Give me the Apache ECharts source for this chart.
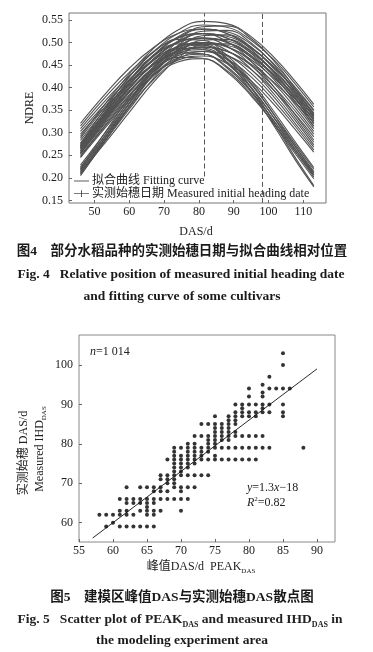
<!DOCTYPE html>
<html><head><meta charset="utf-8">
<script src="https://cdn.jsdelivr.net/npm/echarts@6/dist/echarts.min.js"></script>
<style>html,body{margin:0;padding:0;background:#fff}#c{width:373px;height:652px}</style>
</head><body><div id="c"></div>
<script>
// ---------- Fig. 4 data ----------
const dasGrid = [46, 53, 60, 67, 74, 81, 88, 95, 102, 108, 113];
const ndreCurves = [
  [0.208, 0.282, 0.356, 0.418, 0.457, 0.464, 0.438, 0.385, 0.314, 0.250, 0.198],
  [0.212, 0.288, 0.364, 0.427, 0.466, 0.474, 0.447, 0.393, 0.321, 0.255, 0.202],
  [0.217, 0.294, 0.371, 0.436, 0.476, 0.484, 0.457, 0.401, 0.328, 0.260, 0.206],
  [0.221, 0.300, 0.379, 0.445, 0.486, 0.494, 0.466, 0.410, 0.335, 0.266, 0.211],
  [0.247, 0.314, 0.376, 0.428, 0.461, 0.470, 0.454, 0.415, 0.359, 0.304, 0.257],
  [0.253, 0.320, 0.384, 0.437, 0.471, 0.480, 0.463, 0.424, 0.367, 0.311, 0.262],
  [0.258, 0.327, 0.392, 0.446, 0.480, 0.490, 0.473, 0.432, 0.375, 0.317, 0.268],
  [0.263, 0.334, 0.400, 0.455, 0.490, 0.500, 0.483, 0.441, 0.382, 0.324, 0.273],
  [0.268, 0.340, 0.408, 0.464, 0.500, 0.510, 0.492, 0.450, 0.390, 0.330, 0.279],
  [0.274, 0.347, 0.416, 0.473, 0.510, 0.520, 0.502, 0.459, 0.397, 0.336, 0.284],
  [0.245, 0.310, 0.373, 0.427, 0.464, 0.480, 0.471, 0.440, 0.390, 0.338, 0.291],
  [0.250, 0.316, 0.381, 0.436, 0.474, 0.490, 0.481, 0.449, 0.398, 0.345, 0.297],
  [0.255, 0.323, 0.389, 0.445, 0.484, 0.500, 0.491, 0.458, 0.406, 0.352, 0.303],
  [0.260, 0.329, 0.397, 0.454, 0.493, 0.510, 0.501, 0.467, 0.414, 0.359, 0.309],
  [0.265, 0.336, 0.404, 0.463, 0.503, 0.520, 0.510, 0.476, 0.422, 0.366, 0.315],
  [0.270, 0.342, 0.412, 0.471, 0.513, 0.530, 0.520, 0.485, 0.430, 0.373, 0.321],
  [0.267, 0.331, 0.392, 0.445, 0.482, 0.499, 0.494, 0.468, 0.424, 0.375, 0.331],
  [0.272, 0.337, 0.400, 0.453, 0.491, 0.509, 0.504, 0.477, 0.432, 0.383, 0.337],
  [0.277, 0.344, 0.408, 0.462, 0.501, 0.519, 0.514, 0.487, 0.441, 0.390, 0.344],
  [0.283, 0.351, 0.416, 0.471, 0.511, 0.529, 0.524, 0.496, 0.449, 0.398, 0.351],
  [0.288, 0.357, 0.424, 0.480, 0.520, 0.539, 0.534, 0.505, 0.458, 0.405, 0.357],
  [0.292, 0.363, 0.430, 0.487, 0.528, 0.547, 0.542, 0.513, 0.464, 0.411, 0.363],
  [0.297, 0.356, 0.409, 0.452, 0.480, 0.490, 0.480, 0.452, 0.409, 0.364, 0.323],
  [0.303, 0.363, 0.418, 0.462, 0.490, 0.500, 0.490, 0.462, 0.418, 0.371, 0.329],
  [0.309, 0.370, 0.426, 0.471, 0.500, 0.510, 0.500, 0.471, 0.426, 0.379, 0.336],
  [0.315, 0.378, 0.434, 0.480, 0.510, 0.520, 0.510, 0.480, 0.434, 0.386, 0.342],
  [0.321, 0.385, 0.443, 0.489, 0.520, 0.530, 0.520, 0.489, 0.443, 0.394, 0.349],
  [0.212, 0.277, 0.345, 0.412, 0.465, 0.495, 0.497, 0.471, 0.421, 0.365, 0.314],
  [0.216, 0.282, 0.352, 0.421, 0.475, 0.505, 0.507, 0.481, 0.430, 0.372, 0.320],
  [0.220, 0.288, 0.359, 0.429, 0.484, 0.515, 0.517, 0.490, 0.438, 0.380, 0.326],
  [0.224, 0.293, 0.366, 0.437, 0.493, 0.525, 0.527, 0.499, 0.446, 0.387, 0.333],
  [0.228, 0.299, 0.372, 0.445, 0.503, 0.535, 0.537, 0.509, 0.455, 0.394, 0.339],
  [0.255, 0.326, 0.391, 0.441, 0.467, 0.465, 0.435, 0.382, 0.316, 0.255, 0.206],
  [0.260, 0.332, 0.399, 0.450, 0.477, 0.475, 0.444, 0.390, 0.322, 0.260, 0.210],
  [0.266, 0.339, 0.408, 0.460, 0.487, 0.485, 0.454, 0.399, 0.329, 0.266, 0.214],
  [0.271, 0.346, 0.416, 0.469, 0.497, 0.495, 0.463, 0.407, 0.336, 0.271, 0.219],
  [0.276, 0.353, 0.424, 0.479, 0.507, 0.505, 0.472, 0.415, 0.342, 0.276, 0.223],
  [0.205, 0.281, 0.358, 0.432, 0.480, 0.488, 0.457, 0.392, 0.310, 0.236, 0.180],
  [0.209, 0.286, 0.366, 0.441, 0.489, 0.498, 0.466, 0.400, 0.316, 0.241, 0.183]
];
const headingDates = [81.4, 98.3];
const headingLineBottom = [0.203, 0.1445];
const headingLineTop = 0.5650;
const ndreTicks = [0.15, 0.20, 0.25, 0.30, 0.35, 0.40, 0.45, 0.50, 0.55];
const dasTicks = [50, 60, 70, 80, 90, 100, 110];

// ---------- Fig. 5 data ----------
const ihdLevels = [59, 60, 62, 63, 64, 65, 66, 68, 69, 70, 71, 72, 73, 74, 75, 76, 77, 78, 79, 80,
  81, 82, 83, 84, 85, 86, 87, 88, 89, 90, 92, 93, 94, 95, 97, 100, 103];
const peakAtLevel = [
  [59, 61, 62, 63, 64, 65, 66],
  [60],
  [58, 59, 60, 61, 62, 63, 65, 66],
  [61, 62, 64, 65, 66, 67, 70],
  [65],
  [62, 63, 64, 65, 66],
  [61, 62, 63, 64, 65, 66, 67, 68, 69, 70, 71],
  [66, 67, 68, 70],
  [62, 64, 65, 66, 67, 69, 70, 71, 72],
  [68, 69],
  [67, 68, 69],
  [67, 68, 69, 70, 71, 72, 73, 74],
  [69, 70],
  [69, 70, 71],
  [69, 70, 71, 72],
  [68, 69, 70, 71, 72, 73, 74, 75, 76, 77, 78, 79, 80, 81],
  [69, 70, 71, 72, 73, 75],
  [69, 71, 72, 73, 74],
  [69, 70, 71, 72, 73, 74, 75, 76, 77, 78, 79, 80, 81, 82, 83, 88],
  [71, 72, 74, 75],
  [74, 75, 76, 77],
  [72, 73, 74, 75, 76, 77, 78, 79, 80, 81, 82],
  [75, 76, 77, 78],
  [75, 76, 77],
  [73, 74, 75, 76, 77, 78],
  [77, 78],
  [75, 77, 78, 79, 80, 81, 85],
  [78, 79, 80, 81, 82, 83, 85],
  [79, 82],
  [78, 79, 80, 81, 82, 83, 85],
  [80, 82],
  [82],
  [80, 83, 84, 85, 86],
  [82],
  [83],
  [85],
  [85]
];
const fitLineX = [57, 90];
const fitLineY = [56.1, 99];
const peakTicks = [55, 60, 65, 70, 75, 80, 85, 90];
const ihdTicks = [60, 70, 80, 90, 100];

// ---------- build ----------
const SERIF = 'Liberation Serif, Noto Sans CJK SC, serif';
const fitName = '拟合曲线 Fitting curve';
const measName = '实测始穗日期 Measured initial heading date';
const LINE_C = '#525252';
const chart = echarts.init(document.getElementById('c'), null, {renderer: 'canvas'});

const series = [];
ndreCurves.forEach(function (curve) {
  series.push({
    type: 'line', name: fitName, xAxisIndex: 0, yAxisIndex: 0,
    data: dasGrid.map(function (d, i) { return [d, curve[i]]; }),
    smooth: 0.45, symbol: 'none', silent: true,
    lineStyle: {color: LINE_C, width: 1.1}, itemStyle: {color: LINE_C}
  });
});
series.push({
  type: 'line', name: measName, xAxisIndex: 0, yAxisIndex: 0, data: [],
  symbol: 'none',
  lineStyle: {color: LINE_C, width: 1}, itemStyle: {color: LINE_C},
  markLine: {
    symbol: 'none', silent: true, label: {show: false}, animation: false,
    lineStyle: {color: '#555', width: 1, type: [5, 3]},
    data: headingDates.map(function (d, i) {
      return [{coord: [d, headingLineBottom[i]]}, {coord: [d, headingLineTop]}];
    })
  }
});
const scatterData = [];
ihdLevels.forEach(function (lv, i) {
  peakAtLevel[i].forEach(function (p) { scatterData.push([p, lv]); });
});
series.push({
  type: 'scatter', xAxisIndex: 1, yAxisIndex: 1, data: scatterData,
  symbol: 'circle', symbolSize: 4, itemStyle: {color: '#000'}, silent: true
});
series.push({
  type: 'line', xAxisIndex: 1, yAxisIndex: 1,
  data: fitLineX.map(function (x, i) { return [x, fitLineY[i]]; }),
  symbol: 'none', lineStyle: {color: '#111', width: 0.9}, silent: true
});

function valAxis(grid, min, max, ticks, fmt, margin) {
  return {
    gridIndex: grid, type: 'value', min: min, max: max,
    axisLine: {show: false}, splitLine: {show: false},
    axisTick: {show: true, inside: true, length: 3, customValues: ticks, lineStyle: {color: '#666'}},
    axisLabel: {customValues: ticks, formatter: fmt, margin: margin,
      fontFamily: SERIF, fontSize: 12, color: '#222'}
  };
}

const subRich = {
  a: {fontFamily: SERIF, fontSize: 12, color: '#222', lineHeight: 15},
  s: {fontFamily: SERIF, fontSize: 7, color: '#222', lineHeight: 7, verticalAlign: 'bottom'},
  i: {fontFamily: SERIF, fontSize: 12, color: '#222', fontStyle: 'italic', lineHeight: 15},
  b: {fontFamily: SERIF, fontSize: 13.5, fontWeight: 'bold', color: '#1a1a1a', lineHeight: 17},
  bs: {fontFamily: SERIF, fontSize: 8, fontWeight: 'bold', color: '#1a1a1a', lineHeight: 8, verticalAlign: 'bottom'},
  br: {fontFamily: SERIF, fontSize: 12, color: '#6b4a35', lineHeight: 15},
  sup: {fontFamily: SERIF, fontSize: 7, color: '#222', lineHeight: 7, verticalAlign: 'top'}
};
function txt(x, y, text, opts) {
  opts = opts || {};
  return {
    type: 'text', x: x, y: y, rotation: opts.rot || 0, silent: true,
    style: {text: text, rich: subRich, align: opts.align || 'center', verticalAlign: 'middle',
      fontFamily: SERIF, fontSize: opts.size || 12, fontWeight: opts.weight || 'normal',
      fill: opts.color || '#222'}
  };
}

chart.setOption({
  animation: false,
  backgroundColor: '#fff',
  grid: [
    {left: 69, right: 47, top: 13, bottom: 449, show: true, borderColor: '#777', borderWidth: 1, backgroundColor: 'transparent'},
    {left: 79, right: 38, top: 335, bottom: 110, show: true, borderColor: '#888', borderWidth: 1, backgroundColor: 'transparent'}
  ],
  xAxis: [
    valAxis(0, 42.7, 116.5, dasTicks, function (v) { return String(v); }, 3),
    valAxis(1, 55, 92.65, peakTicks, function (v) { return String(v); }, 3)
  ],
  yAxis: [
    valAxis(0, 0.1442, 0.5655, ndreTicks, function (v) { return v.toFixed(2); }, 6),
    valAxis(1, 55.1, 107.6, ihdTicks, function (v) { return String(v); }, 6)
  ],
  legend: {
    data: [
      {name: fitName, icon: 'path://M0,4.5H16V5.5H0Z'},
      {name: measName, icon: 'path://M0,3.5H16V4.5H0Z M7.5,0.5H8.5V7.5H7.5Z'}
    ],
    orient: 'vertical', left: 74, top: 175,
    itemWidth: 15, itemHeight: 8, itemGap: 0.6, selectedMode: false,
    padding: 0, backgroundColor: 'transparent',
    itemStyle: {color: LINE_C, borderWidth: 0},
    textStyle: {fontFamily: SERIF, fontSize: 12, color: '#222', lineHeight: 12, padding: [0, 0, 0, -2]}
  },
  series: series,
  graphic: [
    txt(30, 108, 'NDRE', {rot: Math.PI / 2}),
    txt(196, 232, 'DAS/d'),
    txt(182, 252, '图4\u3000部分水稻品种的实测始穗日期与拟合曲线相对位置', {size: 13.5, weight: 'bold', color: '#1a1a1a'}),
    txt(181, 275, 'Fig. 4   Relative position of measured initial heading date', {size: 13.5, weight: 'bold', color: '#1a1a1a'}),
    txt(182, 297, 'and fitting curve of some cultivars', {size: 13.5, weight: 'bold', color: '#1a1a1a'}),
    txt(90, 352, '{i|n}{a|=1 014}', {align: 'left'}),
    txt(247, 488, '{i|y}{a|=1.3}{i|x}{a|\u221218}', {align: 'left'}),
    txt(247, 503, '{i|R}{sup|2}{a|=0.82}', {align: 'left'}),
    txt(24, 453, '{br|实测始穗 DAS/d}', {rot: Math.PI / 2}),
    txt(40, 449, '{a|Measured IHD}{s|DAS}', {rot: Math.PI / 2}),
    txt(201, 567, '{a|峰值DAS/d  PEAK}{s|DAS}'),
    txt(182, 598, '图5\u3000建模区峰值DAS与实测始穗DAS散点图', {size: 13.5, weight: 'bold', color: '#1a1a1a'}),
    txt(180, 620, '{b|Fig. 5   Scatter plot of PEAK}{bs|DAS}{b| and measured IHD}{bs|DAS}{b| in}'),
    txt(182, 641, 'the modeling experiment area', {size: 13.5, weight: 'bold', color: '#1a1a1a'})
  ]
});
</script>
</body></html>
